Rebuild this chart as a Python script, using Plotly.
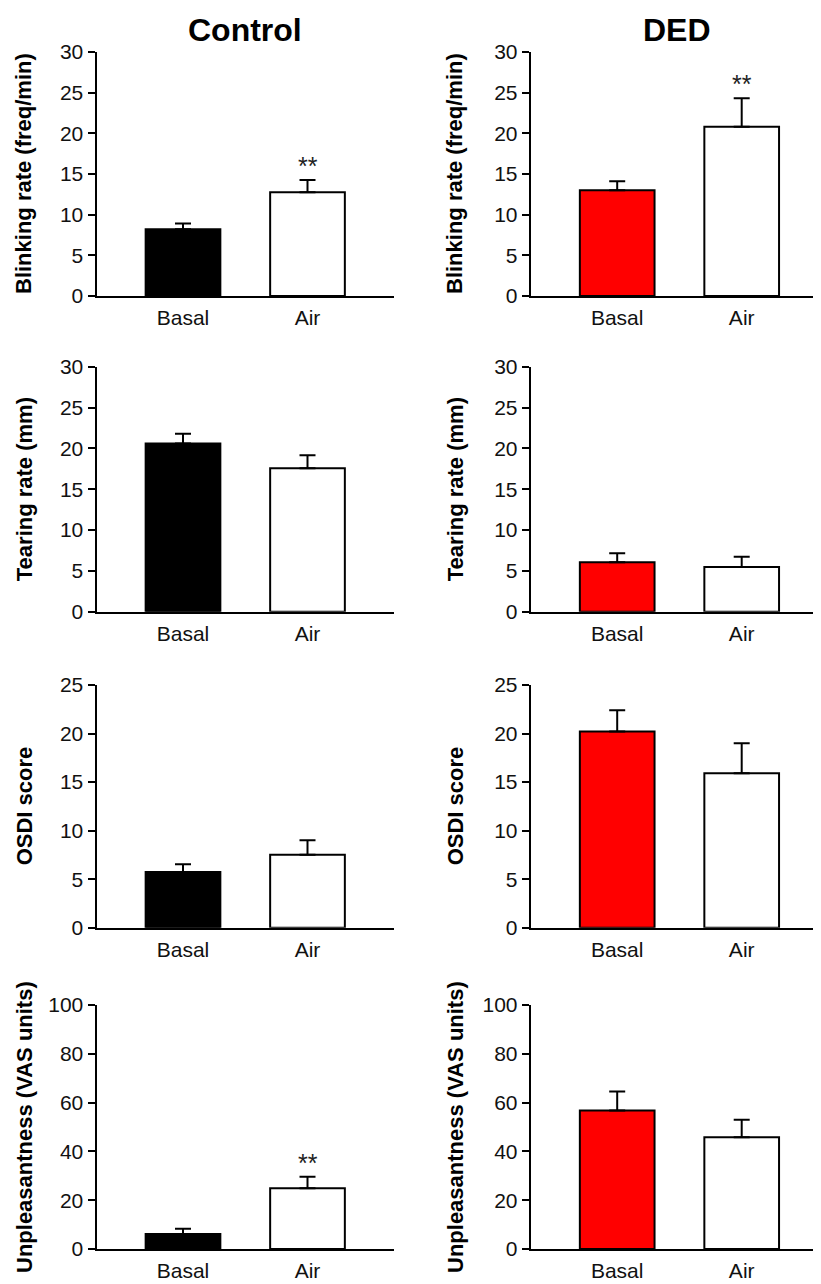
import plotly.graph_objects as go

# Page body has an 8px margin; figure is sized to fill the rest of the 821x1284 window
OFF = 8
W, H = 821 - OFF, 1284 - OFF

categories = ["Basal", "Air"]
groups = ["Control", "DED"]
measures = ["Blinking rate (freq/min)", "Tearing rate (mm)", "OSDI score", "Unpleasantness (VAS units)"]

blink_control = [8.2, 12.75]
blink_control_err = [0.7, 1.5]
blink_ded = [13.0, 20.8]
blink_ded_err = [1.1, 3.5]

tear_control = [20.6, 17.55]
tear_control_err = [1.2, 1.6]
tear_ded = [6.05, 5.47]
tear_ded_err = [1.1, 1.25]

osdi_control = [5.74, 7.52]
osdi_control_err = [0.8, 1.5]
osdi_ded = [20.2, 15.9]
osdi_ded_err = [2.2, 3.1]

vas_control = [6.1, 24.9]
vas_control_err = [2.2, 4.7]
vas_ded = [56.8, 45.8]
vas_ded_err = [7.8, 7.2]

y_max = [30, 30, 25, 100]
y_dtick = [5, 5, 5, 20]
significant_air = [[True, True], [False, False], [False, False], [True, False]]

values = [[blink_control, blink_ded], [tear_control, tear_ded],
          [osdi_control, osdi_ded], [vas_control, vas_ded]]
errors = [[blink_control_err, blink_ded_err], [tear_control_err, tear_ded_err],
          [osdi_control_err, osdi_ded_err], [vas_control_err, vas_ded_err]]

basal_colors = ["#000000", "#ff0000"]
air_color = "#ffffff"

# layout geometry (screen pixels)
col_left = [96.5, 530.7]
col_right = [394.0, 821.0]
row_top = [52.0, 366.7, 685.0, 1005.0]
row_zero = [296.0, 611.7, 927.7, 1249.0]
px_per_cat = 124.5
first_offset = 86.5
title_x = [24.0, 455.0]
group_x = [245.0, 676.7]


def fx(px):
    return (px - OFF) / W


def fy(py):
    return (H - (py - OFF)) / H


FONT = "Arial, 'Liberation Sans', sans-serif"

fig = go.Figure()
annotations = []

for r in range(4):
    for c in range(2):
        idx = r * 2 + c + 1
        xa = "x" if idx == 1 else f"x{idx}"
        ya = "y" if idx == 1 else f"y{idx}"
        fig.add_trace(go.Bar(
            x=categories, y=values[r][c],
            xaxis=xa, yaxis=ya,
            width=0.6,
            marker=dict(color=[basal_colors[c], air_color],
                        line=dict(color="black", width=2)),
            error_y=dict(type="data", array=errors[r][c], arrayminus=[0, 0],
                         symmetric=False, color="black", thickness=2, width=8),
            showlegend=False, hoverinfo="skip",
        ))
        length = col_right[c] - col_left[c]
        x0 = -first_offset / px_per_cat
        x1 = x0 + length / px_per_cat
        xkey = "xaxis" if idx == 1 else f"xaxis{idx}"
        ykey = "yaxis" if idx == 1 else f"yaxis{idx}"
        fig.layout[xkey] = dict(
            domain=[fx(col_left[c]), min(1.0, fx(col_right[c]))],
            anchor=ya, range=[x0, x1], type="category",
            showline=True, linecolor="black", linewidth=2,
            ticks="", showgrid=False, zeroline=False, automargin=False,
            tickfont=dict(family=FONT, size=21, color="#111"),
            ticklabelstandoff=2, fixedrange=True,
        )
        fig.layout[ykey] = dict(
            domain=[fy(row_zero[r]), fy(row_top[r])],
            anchor=xa, range=[0, y_max[r]], dtick=y_dtick[r], tick0=0,
            showline=True, linecolor="black", linewidth=2,
            ticks="outside", ticklen=7, tickwidth=2, tickcolor="black",
            showgrid=False, zeroline=False, automargin=False,
            tickfont=dict(family=FONT, size=21, color="#111"),
            fixedrange=True,
        )
        annotations.append(dict(
            text=f"<b>{measures[r]}</b>", textangle=-90,
            x=fx(title_x[c]), y=fy((row_top[r] + row_zero[r]) / 2),
            xref="paper", yref="paper", xanchor="center", yanchor="middle",
            showarrow=False, font=dict(family=FONT, size=22, color="black"),
        ))
        if significant_air[r][c]:
            annotations.append(dict(
                text="**", x="Air", y=values[r][c][1] + errors[r][c][1],
                xref=xa, yref=ya, xanchor="center", yanchor="bottom",
                yshift=-2, showarrow=False,
                font=dict(family=FONT, size=25, color="#222"),
            ))

for c, g in enumerate(groups):
    annotations.append(dict(
        text=f"<b>{g}</b>", x=fx(group_x[c]), y=fy(30),
        xref="paper", yref="paper", xanchor="center", yanchor="middle",
        showarrow=False, font=dict(family=FONT, size=32, color="black"),
    ))

fig.update_layout(
    width=W, height=H,
    margin=dict(l=0, r=0, t=0, b=0, autoexpand=False),
    paper_bgcolor="white", plot_bgcolor="rgba(0,0,0,0)",
    annotations=annotations,
)

fig.write_html("out.html")
